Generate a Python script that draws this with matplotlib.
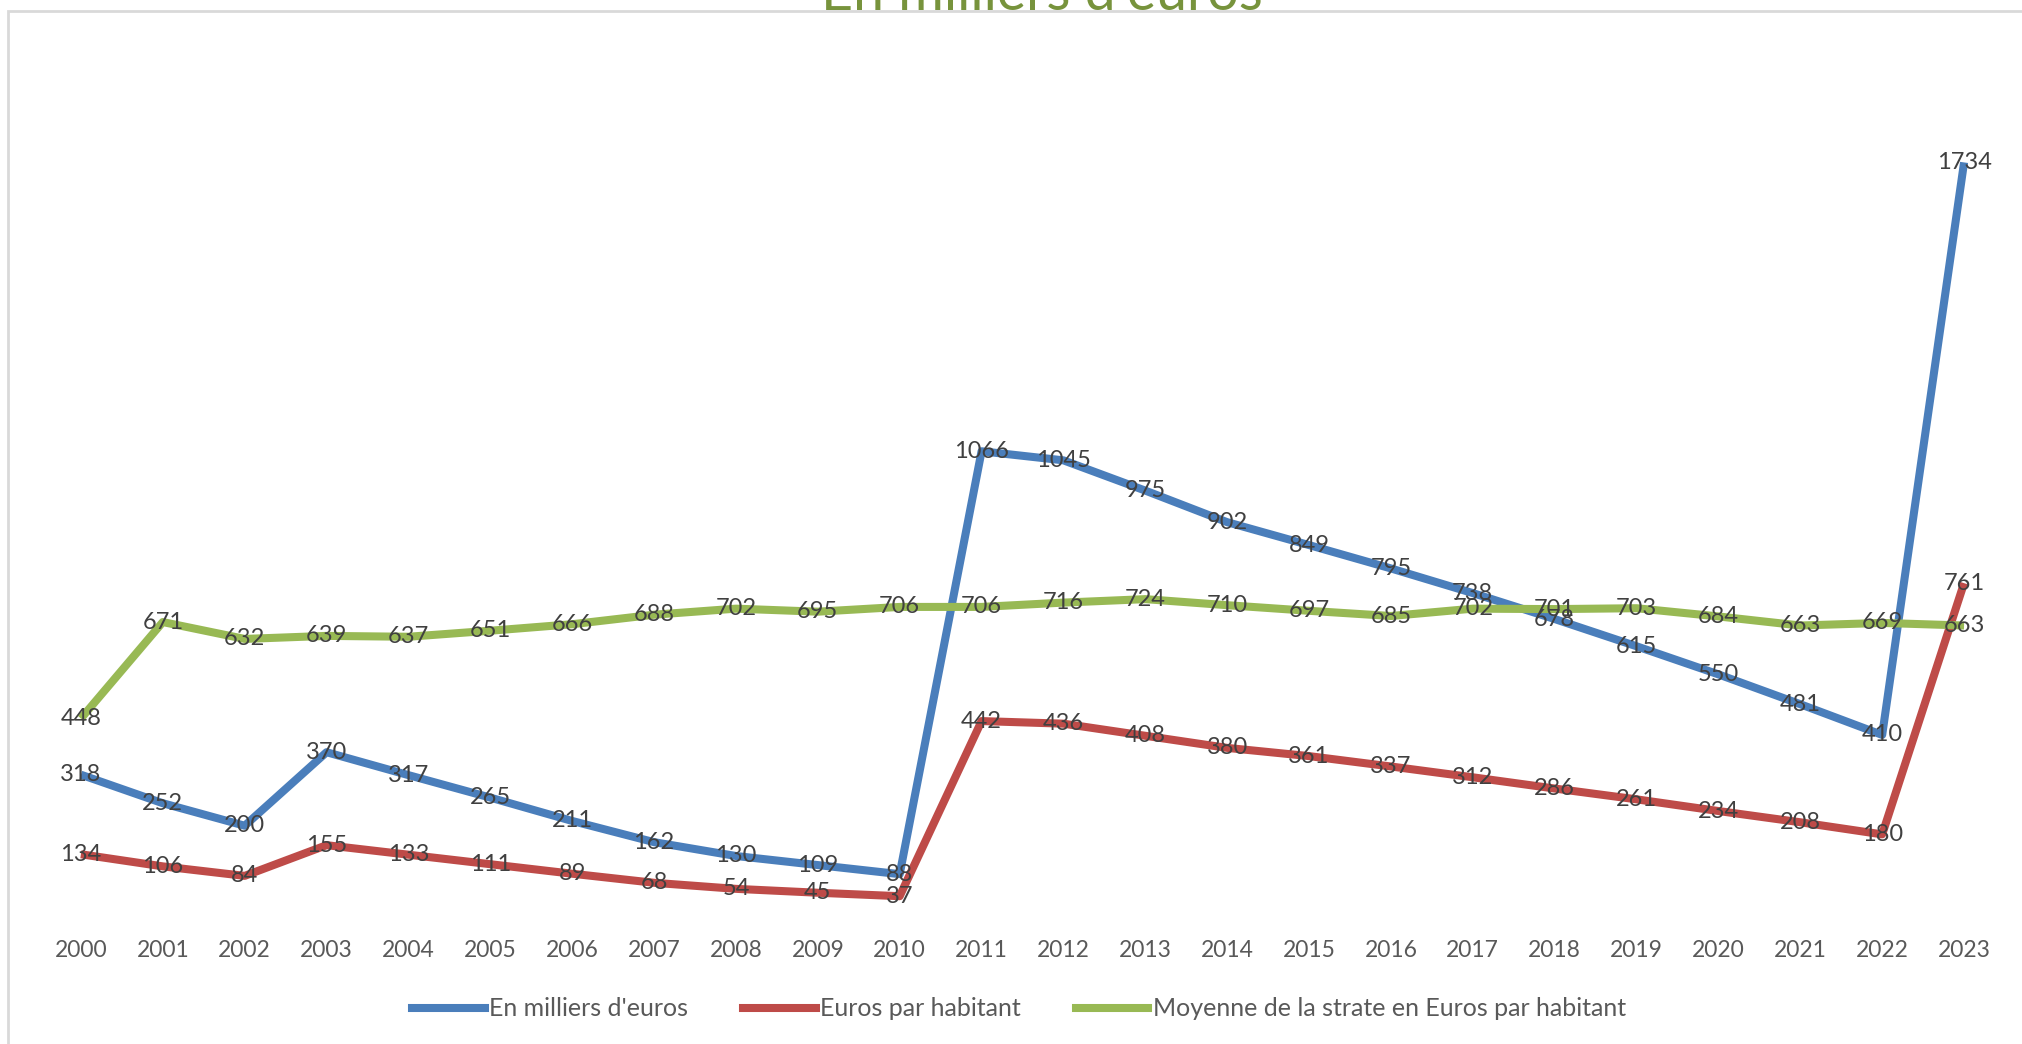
import matplotlib
matplotlib.use("Agg")
import matplotlib.pyplot as plt
from matplotlib.patches import Rectangle
from matplotlib.lines import Line2D

years = [str(y) for y in range(2000, 2024)]
milliers = [318, 252, 200, 370, 317, 265, 211, 162, 130, 109, 88, 1066, 1045, 975,
            902, 849, 795, 738, 678, 615, 550, 481, 410, 1734]
par_hab = [134, 106, 84, 155, 133, 111, 89, 68, 54, 45, 37, 442, 436, 408, 380,
           361, 337, 312, 286, 261, 234, 208, 180, 761]
strate = [448, 671, 632, 639, 637, 651, 666, 688, 702, 695, 706, 706, 716, 724,
          710, 697, 685, 702, 701, 703, 684, 663, 669, 663]
series_names = ["En milliers d'euros", "Euros par habitant",
                "Moyenne de la strate en Euros par habitant"]
title = "En milliers d'euros"

plt.rcParams['font.family'] = ['Lato', 'DejaVu Sans']
W, H = 2022, 1044
fig = plt.figure(figsize=(W / 100, H / 100), dpi=100)
fig.patch.set_facecolor('white')

# chart frame
fig.add_artist(Rectangle((8 / W, -0.1), 1.1, 1 - 11 / H + 0.1, transform=fig.transFigure,
                         fill=False, edgecolor='#D9D9D9', linewidth=2))

ax = fig.add_axes([40 / W, 1 - 912.2 / H, 1965 / W, 864.8 / H])
ax.set_xlim(-0.5, 23.5)
ax.set_ylim(0, 2000)
for s in ax.spines.values():
    s.set_visible(False)
ax.set_yticks([])
x = list(range(len(years)))
ax.set_xticks(x)
ax.set_xticklabels(years, fontsize=16.5, color='#595959')
ax.tick_params(axis='x', length=0, pad=20)

colors = ['#4A7EBB', '#BE4B48', '#98B954']
data = [milliers, par_hab, strate]
lw = 5.8
for vals, c in zip(data, colors):
    ax.plot(x, vals, color=c, linewidth=lw, solid_capstyle='butt', solid_joinstyle='round',
            zorder=2)
for vals in data:
    for i, v in zip(x, vals):
        ax.text(i, v, str(v), ha='center', va='center', fontsize=17, color='#404040',
                zorder=3)

handles = [Line2D([], [], color=c, linewidth=lw) for c in colors]
fig.legend(handles, series_names, loc='center', bbox_to_anchor=(0.504, 35 / H), ncol=3,
           frameon=False, fontsize=18, handlelength=2.9, handletextpad=0.18,
           columnspacing=2.2, labelcolor='#595959')

fig.text(1042 / W, 1 - 10 / H, title, ha='center', va='baseline', fontsize=40,
         color='#77933C')

fig.savefig('out.png', dpi=100, facecolor='white')
